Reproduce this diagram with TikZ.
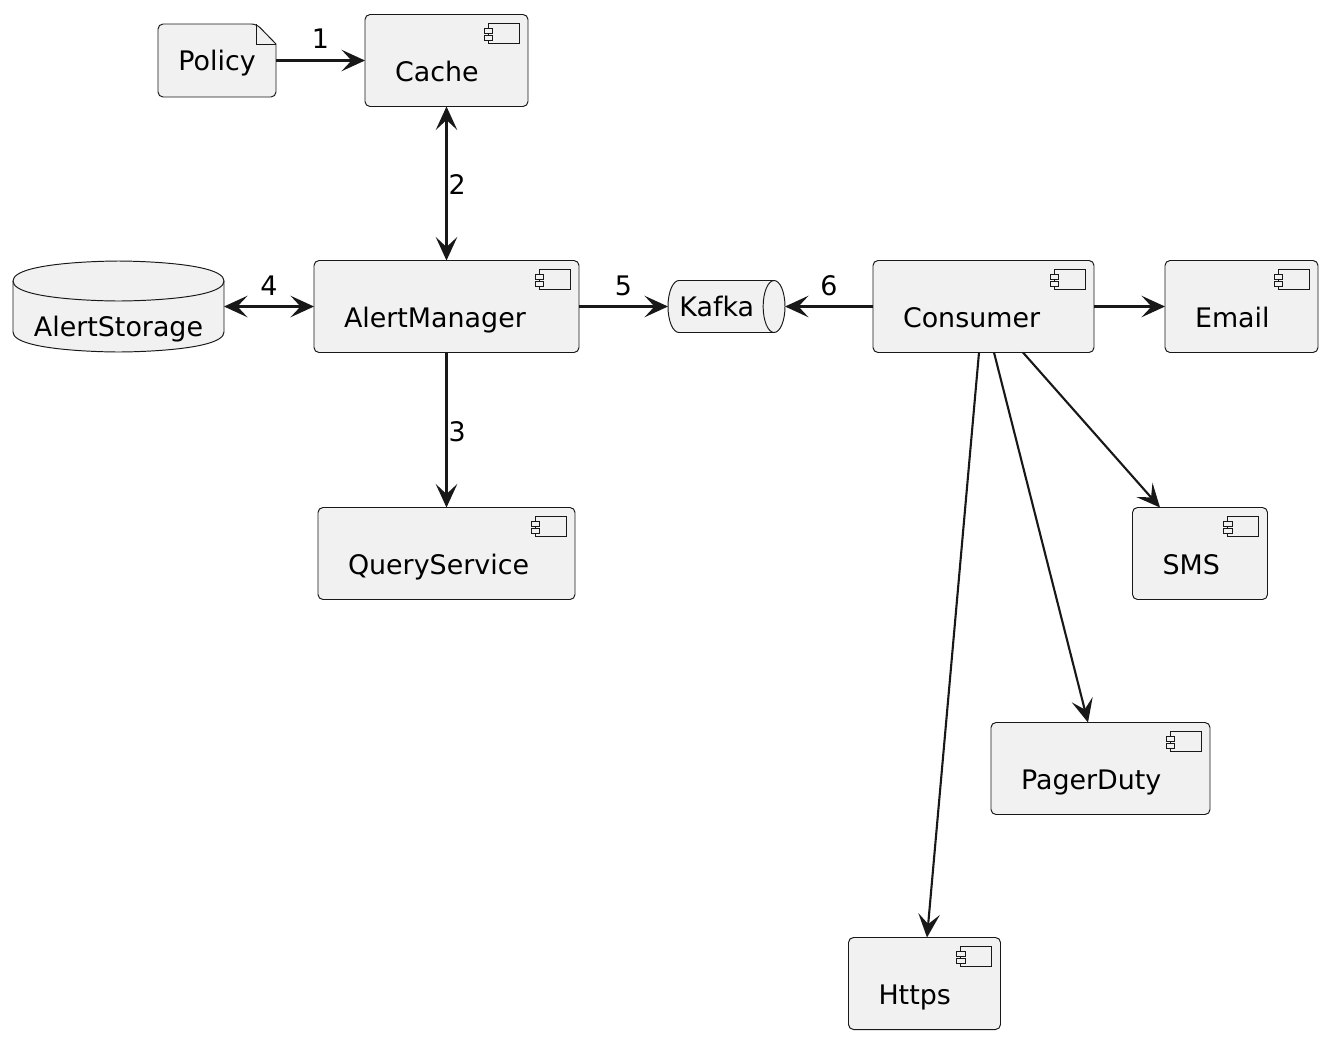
\documentclass[tikz,border=0pt]{standalone}
\usepackage{fontspec}
\setmainfont{DejaVu Sans}
\usetikzlibrary{positioning,arrows.meta,shapes.geometric,backgrounds}
\definecolor{boxfill}{HTML}{F1F1F1}
\definecolor{inkline}{HTML}{181818}

\begin{document}
\begin{tikzpicture}[
  node distance=1.8cm and 1.8cm,
  basebox/.style={draw=inkline, fill=boxfill, line width=0.55pt, outer sep=0pt, font=\fontsize{15.3}{18}\selectfont},
  component/.style={basebox, rounded corners=0.1cm, minimum height=1.84cm, inner ysep=0pt, inner xsep=0.6cm,
    align=left, text height=0.98cm, text depth=0.16cm,
    path picture={
      \draw[inkline, line width=0.5pt, rounded corners=0pt]
        ([xshift=-0.8cm,yshift=-0.18cm]path picture bounding box.north east) rectangle ++(0.62cm,-0.4cm);
      \draw[inkline, fill=boxfill, line width=0.5pt, rounded corners=0pt]
        ([xshift=-0.88cm,yshift=-0.28cm]path picture bounding box.north east) rectangle ++(0.17cm,-0.09cm);
      \draw[inkline, fill=boxfill, line width=0.5pt, rounded corners=0pt]
        ([xshift=-0.88cm,yshift=-0.42cm]path picture bounding box.north east) rectangle ++(0.17cm,-0.09cm);
    }},
  storetext/.style={outer sep=0pt, inner sep=0pt, minimum width=4.22cm, minimum height=1.82cm, text height=1.36cm, text depth=0.16cm,
    font=\fontsize{15.3}{18}\selectfont},
  queue/.style={basebox, cylinder, aspect=1.05, cylinder uses custom fill, cylinder body fill=boxfill, cylinder end fill=boxfill,
    minimum width=1.04cm, minimum height=2.34cm, inner sep=0pt},
  notetext/.style={outer sep=0pt, inner sep=0pt, minimum width=2.36cm, minimum height=1.46cm, text height=0.56cm, text depth=0.16cm,
    font=\fontsize{15.3}{18}\selectfont},
  arrow/.style={-{Stealth[length=0.47cm, width=0.43cm, inset=0.2cm]}, draw=inkline, line width=1.2pt},
  both/.style={{Stealth[length=0.47cm, width=0.43cm, inset=0.2cm]}-{Stealth[length=0.47cm, width=0.43cm, inset=0.2cm]}, draw=inkline, line width=1.2pt},
  edgelabel/.style={font=\fontsize{15.3}{18}\selectfont, inner sep=0pt, text=black}
]
  \useasboundingbox (0,0) rectangle (26.58,-20.8);

  \node[component, text width=2.06cm] (cache) at (8.93,-1.21) {Cache};
  \node[notetext, left=1.78cm of cache] (policy) {Policy};
  \node[component, text width=4.1cm, below=3.08cm of cache] (alertmanager) {AlertManager};
  \node[storetext, left=1.8cm of alertmanager] (alertstorage) {AlertStorage};
  \node[component, text width=3.94cm, below=3.1cm of alertmanager] (queryservice) {QueryService};
  \node[queue, right=1.78cm of alertmanager] (kafka) {Kafka\hspace*{0.16cm}};
  \node[component, text width=3.22cm, right=1.76cm of kafka] (consumer) {Consumer};
  \node[component, text width=1.86cm, right=1.42cm of consumer] (email) {Email};
  \node[component, text width=1.5cm, below=3.1cm of consumer, xshift=4.33cm] (sms) {SMS};
  \node[component, text width=3.18cm, below=7.4cm of consumer, xshift=2.34cm] (pagerduty) {PagerDuty};
  \node[component, text width=1.84cm, below=11.7cm of consumer, xshift=-1.18cm] (https) {Https};

  % folded sheet and drum behind their texts
  \begin{scope}[on background layer]
    \draw[draw=inkline, fill=boxfill, line width=0.55pt, rounded corners=0.1cm]
      (policy.south west) -- (policy.north west) -- ([xshift=-0.39cm]policy.north east)
      [sharp corners] -- ([yshift=-0.4cm]policy.north east) [rounded corners=0.1cm] -- (policy.south east) -- cycle;
    \draw[draw=inkline, line width=0.55pt]
      ([xshift=-0.39cm]policy.north east) |- ([yshift=-0.4cm]policy.north east);
    \draw[draw=inkline, fill=boxfill, line width=0.55pt]
      ([yshift=-0.4cm]alertstorage.north west) .. controls (alertstorage.north west) and (alertstorage.north) .. (alertstorage.north)
      .. controls (alertstorage.north) and (alertstorage.north east) .. ([yshift=-0.4cm]alertstorage.north east)
      -- ([yshift=0.4cm]alertstorage.south east)
      .. controls (alertstorage.south east) and (alertstorage.south) .. (alertstorage.south)
      .. controls (alertstorage.south) and (alertstorage.south west) .. ([yshift=0.4cm]alertstorage.south west) -- cycle;
    \draw[draw=inkline, line width=0.55pt]
      ([yshift=-0.4cm]alertstorage.north west) .. controls ([yshift=-0.8cm]alertstorage.north west) and ([yshift=-0.8cm]alertstorage.north) .. ([yshift=-0.8cm]alertstorage.north)
      .. controls ([yshift=-0.8cm]alertstorage.north) and ([yshift=-0.8cm]alertstorage.north east) .. ([yshift=-0.4cm]alertstorage.north east);
  \end{scope}

  \draw[arrow] (policy) -- node[edgelabel, above=0.22cm] (label1) {1} (cache);
  \draw[both] (cache) -- node[edgelabel, right=0.02cm, yshift=-0.02cm] (label2) {2} (alertmanager);
  \draw[arrow] (alertmanager) -- node[edgelabel, right=0.02cm, yshift=-0.04cm] (label3) {3} (queryservice);
  \draw[both] (alertstorage) -- node[edgelabel, above=0.2cm] (label4) {4} (alertmanager);
  \draw[arrow] (alertmanager) -- node[edgelabel, above=0.2cm] (label5) {5} (kafka);
  \draw[arrow] (consumer) -- node[edgelabel, above=0.2cm] (label6) {6} (kafka);
  \draw[arrow] (consumer) -- (email);
  \draw[arrow] ([xshift=0.79cm]consumer.south) -- ([xshift=-0.8cm]sms.north);
  \draw[arrow] ([xshift=0.21cm]consumer.south) -- ([xshift=-0.25cm]pagerduty.north);
  \draw[arrow] ([xshift=-0.09cm]consumer.south) -- ([xshift=0.05cm]https.north);
\end{tikzpicture}
\end{document}
